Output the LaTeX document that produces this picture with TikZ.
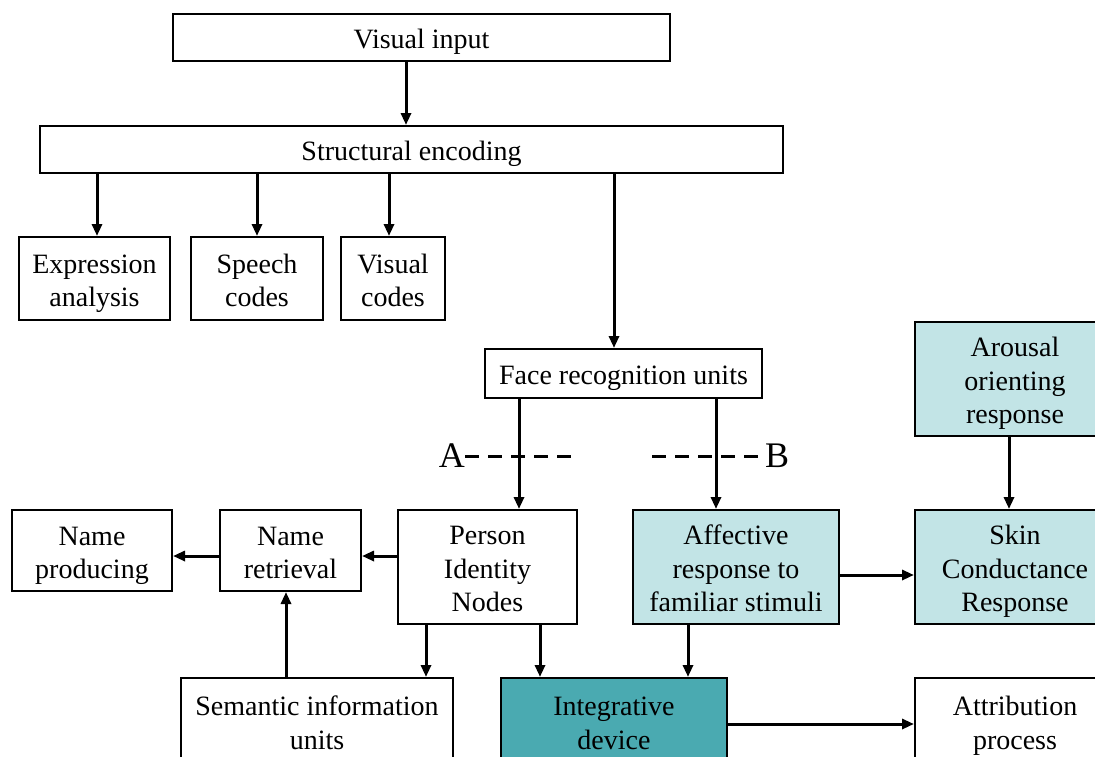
\documentclass[tikz,border=0pt]{standalone}
\usepackage{fontspec}
\setmainfont{Liberation Serif}
\usetikzlibrary{arrows.meta}
\definecolor{palecyan}{HTML}{C2E4E6}
\definecolor{tealbox}{HTML}{4AAAB1}
% fixed-height strut so every text block sits at the same place in its box
\newcommand{\boxstrut}{\rule[-8pt]{0pt}{38.5pt}}
\begin{document}
\begin{tikzpicture}[x=1pt,y=-1pt,
  box/.style={draw=black,line width=2pt,inner sep=0pt,align=center,
    font=\fontsize{28}{33.5}\selectfont,
    execute at begin node=\boxstrut, execute at end node=\boxstrut},
  arr/.style={line width=3pt,-{Triangle[length=12pt,width=10pt]}},
  dashline/.style={line width=3pt,dash pattern=on 14pt off 9pt},
  letter/.style={inner sep=0pt,font=\fontsize{36}{40}\selectfont}]
\useasboundingbox (0,0) rectangle (1095,756);
\clip (0,0) rectangle (1095,756);
\fill[white] (0,0) rectangle (1095,756);

% top of the pipeline
\node[box,minimum width=497pt,minimum height=47pt] (vi) at (421.5,37.5) {Visual input};
\node[box,minimum width=743pt,minimum height=47pt] (se) at (411.5,149.5) {Structural encoding};
\node[box,minimum width=151pt,minimum height=83pt] (ea) at (94.5,278.5) {\boxstrut Expression\\analysis};
\node[box,minimum width=132pt,minimum height=83pt] (sc) at (257,278.5) {\boxstrut Speech\\codes};
\node[box,minimum width=104pt,minimum height=83pt] (vc) at (393,278.5) {\boxstrut Visual\\codes};
\node[box,minimum width=277pt,minimum height=49pt] (fru) at (623.5,373.5) {Face recognition units};

% middle row
\node[box,minimum width=160pt,minimum height=81pt] (np) at (92,550.5) {\boxstrut Name\\producing};
\node[box,minimum width=141pt,minimum height=81pt] (nr) at (290.5,550.5) {\boxstrut Name\\retrieval};
\node[box,minimum width=179pt,minimum height=114pt] (pin) at (487.5,567) {\boxstrut Person\\Identity\\Nodes};
\node[box,fill=palecyan,minimum width=206pt,minimum height=114pt] (aff) at (736,567) {\boxstrut Affective\\response to\\familiar stimuli};
\node[box,fill=palecyan,minimum width=200pt,minimum height=114pt] (scr) at (1015,567) {\boxstrut Skin\\Conductance\\Response};
\node[box,fill=palecyan,minimum width=200pt,minimum height=114pt] (aro) at (1015,379) {\boxstrut Arousal\\orienting\\response};

% bottom row
\node[box,minimum width=272pt,minimum height=86pt] (siu) at (317,721) {\boxstrut Semantic information\\units};
\node[box,fill=tealbox,minimum width=226pt,minimum height=86pt] (int) at (614,721) {\boxstrut Integrative\\device};
\node[box,minimum width=200pt,minimum height=86pt] (att) at (1015,721) {\boxstrut Attribution\\process};

% column and row positions of the connectors
\coordinate (xvi) at (406,0);
\coordinate (xea) at (97,0);
\coordinate (xvc) at (389,0);
\coordinate (xse) at (614,0);
\coordinate (xa) at (519,0);
\coordinate (xb) at (716,0);
\coordinate (xsi) at (286,0);
\coordinate (xpl) at (426,0);
\coordinate (xpr) at (540,0);
\coordinate (xaf) at (688,0);
\coordinate (xar) at (1009,0);
\coordinate (yrow) at (0,556);
\coordinate (yaff) at (0,575);
\coordinate (yint) at (0,724);

% connectors
\draw[arr] (vi.south -| xvi) -- (se.north -| xvi);
\draw[arr] (se.south -| xea) -- (ea.north -| xea);
\draw[arr] (se.south -| sc.north) -- (sc.north);
\draw[arr] (se.south -| xvc) -- (vc.north -| xvc);
\draw[arr] (se.south -| xse) -- (fru.north -| xse);
\draw[arr] (fru.south -| xa) -- (pin.north -| xa);
\draw[arr] (fru.south -| xb) -- (aff.north -| xb);
\draw[arr] (pin.west |- yrow) -- (nr.east |- yrow);
\draw[arr] (nr.west |- yrow) -- (np.east |- yrow);
\draw[arr] (siu.north -| xsi) -- (nr.south -| xsi);
\draw[arr] (pin.south -| xpl) -- (siu.north -| xpl);
\draw[arr] (pin.south -| xpr) -- (int.north -| xpr);
\draw[arr] (aff.south -| xaf) -- (int.north -| xaf);
\draw[arr] (aff.east |- yaff) -- (scr.west |- yaff);
\draw[arr] (aro.south -| xar) -- (scr.north -| xar);
\draw[arr] (int.east |- yint) -- (att.west |- yint);

% A and B markers
\node[letter,anchor=east] (la) at (465,456) {A};
\coordinate (ea1) at (577,456);
\draw[dashline] (la.east) -- (ea1);
\node[letter,anchor=west] (lb) at (765,456) {B};
\coordinate (eb1) at (652,456);
\draw[dashline] (eb1) -- (lb.west);
\end{tikzpicture}
\end{document}
